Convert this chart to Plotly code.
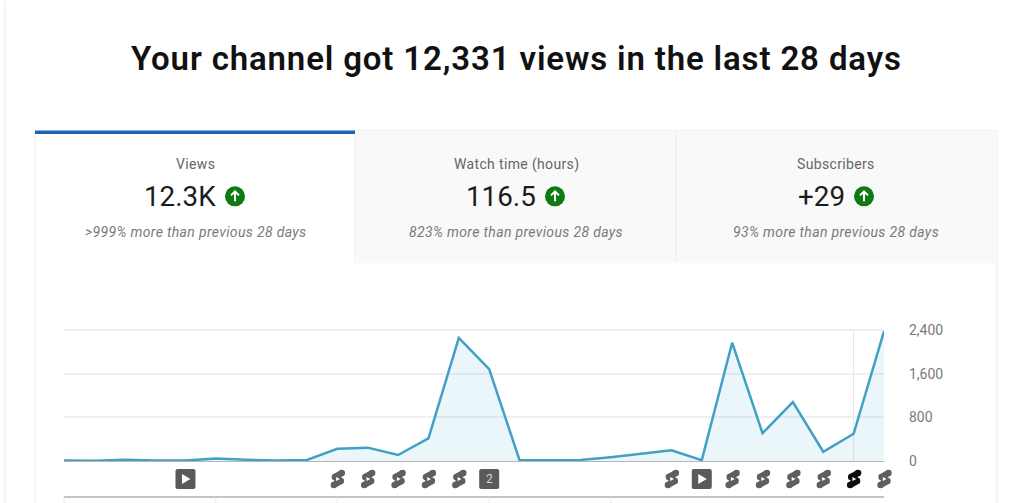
import plotly.graph_objects as go

title = "Your channel got 12,331 views in the last 28 days"
days = list(range(28))
views = [8, 6, 25, 8, 8, 45, 25, 8, 20, 225, 245, 110, 415, 2260, 1685, 15,
         15, 20, 70, 130, 195, 15, 2170, 510, 1080, 170, 500, 2380]
y_ticks = [0, 800, 1600, 2400]
y_labels = ["0", "800", "1,600", "2,400"]
card_names = ["Views", "Watch time (hours)", "Subscribers"]
card_values = ["12.3K", "116.5", "+29"]
card_notes = [">999% more than previous 28 days", "823% more than previous 28 days",
              "93% more than previous 28 days"]
play_days = [4, 21]
badge_days = [14]
shorts_days = [9, 10, 11, 12, 13, 20, 22, 23, 24, 25, 27]
active_shorts_days = [26]
bottom_tick_days = [0, 5, 9, 14, 18]

Y_MAX = 2440
L, R, B = 64, 884, 461
T = B - 131 * Y_MAX / 2400
px = lambda x: (x - L) / (R - L)
py = lambda y: (B - y) / (B - T)
day_x = lambda d: d / (len(days) - 1)

shapes, annos = [], []


def rect(x0, y0, x1, y1, fill, line=None, below=True):
    shapes.append(dict(type="rect", xref="paper", yref="paper", x0=px(x0), x1=px(x1),
                       y0=py(y1), y1=py(y0), fillcolor=fill, layer="below" if below else "above",
                       line=dict(color=line or fill, width=1 if line else 0)))


def vline(x, y0, y1, color, width=1):
    shapes.append(dict(type="line", xref="paper", yref="paper", x0=x, x1=x, y0=py(y0), y1=py(y1),
                       layer="below", line=dict(color=color, width=width)))


def pixel_path(xa, y, path, fill="rgba(0,0,0,0)", line=None, width=0, layer="above"):
    shapes.append(dict(type="path", xref="paper", yref="paper", xsizemode="pixel", ysizemode="pixel",
                       xanchor=xa, yanchor=py(y), path=path, fillcolor=fill, layer=layer,
                       line=dict(color=line or "rgba(0,0,0,0)", width=width)))


def pixel_circle(xa, y, r, fill, cx=0, cy=0):
    shapes.append(dict(type="circle", xref="paper", yref="paper", xsizemode="pixel", ysizemode="pixel",
                       xanchor=xa, yanchor=py(y), x0=cx - r, x1=cx + r, y0=cy - r, y1=cy + r, fillcolor=fill,
                       layer="above", line=dict(width=0)))


def text(x, y, s, size, color, weight=400, style="normal", spacing=0):
    if spacing:
        s = f'<span style="letter-spacing:{spacing}px">{s}</span>'
    annos.append(dict(xref="paper", yref="paper", x=px(x), y=py(y), text=s, showarrow=False,
                      xanchor="center", yanchor="middle",
                      font=dict(family="Roboto", size=size, color=color, weight=weight, style=style)))


# page furniture
vline(px(5), 0, 503, "#f4f4f4", 2)
vline(px(35), 130, 503, "#f2f2f2", 1.5)
vline(px(997), 130, 503, "#f0f0f0", 1.5)
rect(355, 130, 997, 263, "#f9f9f9")
vline(px(355), 133, 263, "#f1f1f1", 1)
vline(px(676), 130, 263, "#ececec", 1)
shapes.append(dict(type="line", xref="paper", yref="paper", x0=px(355), x1=px(997), y0=py(130), y1=py(130),
                   layer="below", line=dict(color="#eeeeee", width=1)))
rect(35, 130, 355, 133.5, "#1c62b9")

text(516, 58, title, 33, "#111111", 600, spacing=0.85)
name_x = [195, 516, 836]
value_x = [180, 501, 821]
icon_x = [235, 555, 864]
for i in range(3):
    text(name_x[i], 164, card_names[i], 14, "#666666", spacing=0.35)
    text(value_x[i], 196, card_values[i], 27.8, "#1c1c1c")
    text(name_x[i], 232, card_notes[i], 14, "#7a7a7a", style="italic", spacing=0.35)
    pixel_circle(px(icon_x[i]), 196, 10, "#0f7a12")
    pixel_path(px(icon_x[i]), 196, "M0,-5 L0,5 M-4,1 L0,5 L4,1", line="#ffffff", width=2)

# event strip and its rule
shapes.append(dict(type="line", xref="paper", yref="paper", x0=0, x1=1, y0=py(497), y1=py(497),
                   layer="below", line=dict(color="#c4c4c4", width=2)))
for d in bottom_tick_days:
    vline(day_x(d), 497, 503, "#e6e6e6", 1)
vline(day_x(26), 330, B, "#e4e4e4", 1)

SQUARE = "M-8,-10 L8,-10 Q10,-10 10,-8 L10,8 Q10,10 8,10 L-8,10 Q-10,10 -10,8 L-10,-8 Q-10,-10 -8,-10 Z"
for d in play_days:
    pixel_path(day_x(d), 479, SQUARE, fill="#5a5a5a")
    pixel_path(day_x(d), 479, "M-3.5,-5 L5,0 L-3.5,5 Z", fill="#ffffff")
for d in badge_days:
    pixel_path(day_x(d), 479, SQUARE, fill="#5a5a5a")
    annos.append(dict(xref="paper", yref="paper", x=day_x(d), y=py(479), text="2", showarrow=False,
                      xanchor="center", yanchor="middle", font=dict(family="Roboto", size=12, color="#d8d8d8")))


def shorts(d, color):
    xa = day_x(d)
    pixel_path(xa, 479, "M-2.5,2 L4.5,6 M-3.5,-6 L3.5,-2 M-2.5,2 L3.5,-2", line=color, width=6.4)
    for cx, cy in [(-2.5, 2), (4.5, 6), (-3.5, -6), (3.5, -2)]:
        pixel_circle(xa, 479, 3.2, color, cx, cy)
    pixel_path(xa, 479, "M-1.2,-2 L2.6,0 L-1.2,2 Z", fill="#ffffff")


for d in shorts_days:
    shorts(d, "#5f5f5f")
for d in active_shorts_days:
    shorts(d, "#0d0d0d")

fig = go.Figure(go.Scatter(x=days, y=views, mode="lines", line=dict(color="#41a0c3", width=2.5),
                           fill="tozeroy", fillcolor="rgba(120,195,225,0.15)", hoverinfo="skip"))
fig.update_layout(
    width=1024, height=503, autosize=False, showlegend=False,
    paper_bgcolor="white", plot_bgcolor="white",
    margin=dict(l=L, r=1024 - R, t=T, b=503 - B, pad=0),
    shapes=shapes, annotations=annos,
    xaxis=dict(range=[0, len(days) - 1], showgrid=False, showticklabels=False, ticks="", zeroline=False,
               showline=True, linecolor="#b5b5b5", linewidth=1),
    yaxis=dict(range=[0, Y_MAX], side="right", tickvals=y_ticks, ticktext=y_labels, showgrid=True,
               gridcolor="#efefef", gridwidth=1.5, zeroline=False, showline=False, ticks="",
               ticklabelstandoff=24, tickfont=dict(family="Roboto", size=14, color="#7a7a7a")),
)
fig.write_html("out.html", config=dict(displayModeBar=False),
               post_script="document.body.style.margin='0';")
